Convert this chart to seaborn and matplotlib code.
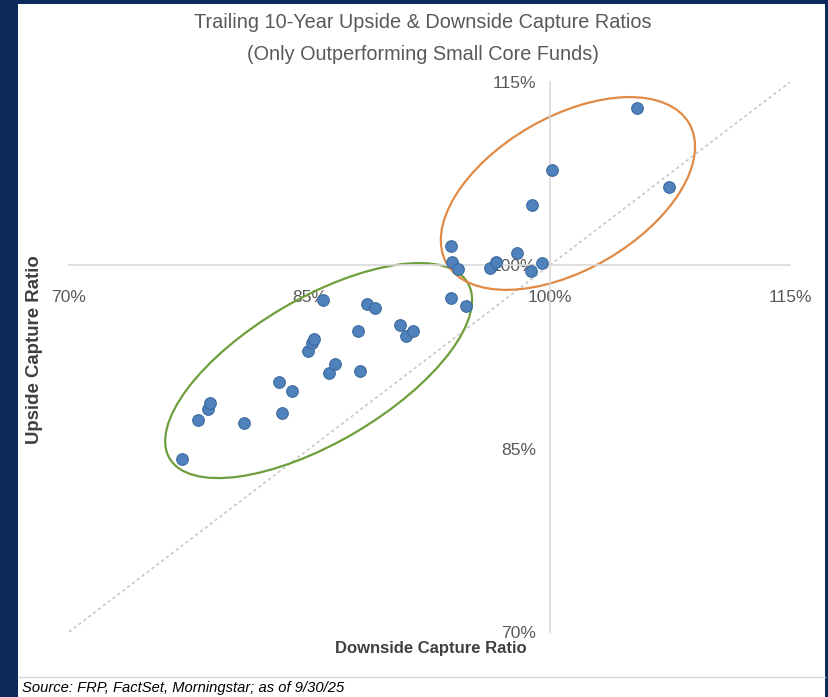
import numpy as np
import pandas as pd
import matplotlib
matplotlib.use('Agg')
import matplotlib.pyplot as plt
import seaborn as sns
from matplotlib.patches import Ellipse, Rectangle
from matplotlib.transforms import ScaledTranslation
from matplotlib import font_manager

# Data (% capture ratios)
green_down = [77.03, 78.07, 78.70, 78.80, 80.92, 83.13, 83.92, 83.31, 84.90, 85.15, 85.29, 85.84,
              86.25, 86.60, 88.16, 88.02, 88.58, 89.10, 90.66, 91.04, 91.45, 93.85, 94.78]
green_up = [84.12, 87.34, 88.22, 88.76, 87.07, 90.47, 89.74, 87.94, 92.96, 93.62, 93.99, 97.16,
            91.16, 91.90, 91.37, 94.65, 96.81, 96.51, 95.11, 94.21, 94.62, 97.35, 96.67]
orange_down = [105.47, 100.15, 107.47, 98.92, 93.85, 93.93, 94.26, 96.28, 96.65, 97.96, 98.86, 99.54]
orange_up = [112.85, 107.82, 106.43, 104.93, 101.58, 100.29, 99.67, 99.80, 100.29, 100.98, 99.56, 100.21]

ticks = [70, 85, 100, 115]
tick_labels = ['70%', '85%', '100%', '115%']

df = pd.DataFrame({
    'Downside': green_down + orange_down,
    'Upside': green_up + orange_up,
})

sns.set_style('white')
names = {f.name for f in font_manager.fontManager.ttflist}
narrow = 'Liberation Sans Narrow' in names
plt.rcParams['font.family'] = ['Liberation Sans Narrow' if narrow else 'Liberation Sans', 'DejaVu Sans']
k = 1.0 if narrow else 0.84

NAVY = '#0b2a5b'
GRAY = '#595959'

fig = plt.figure(figsize=(8.29, 6.97), dpi=100, facecolor=NAVY)
W, H = 829, 697
fig.add_artist(Rectangle((18 / W, 0), (825 - 18) / W, (H - 4) / H, transform=fig.transFigure,
                         facecolor='white', edgecolor='none', zorder=0))
fig.add_artist(plt.Line2D([18 / W, 825 / W], [(H - 677) / H] * 2, transform=fig.transFigure,
                          color='#d9d9d9', lw=1))

ax = fig.add_axes([69 / W, (H - 632) / H, (790 - 69) / W, (632 - 82) / H])
ax.set_facecolor('none')
ax.set_xlim(70, 115)
ax.set_ylim(70, 115)

# 45-degree reference line
ref = np.array([ticks[0], ticks[-1]])
ax.plot(ref, ref, ls=(0, (2, 2)), color='#c4c4c4', lw=1.1, zorder=1)

sns.scatterplot(data=df, x='Downside', y='Upside', ax=ax, color='#4f81bd', edgecolor='#3c6a9e',
                linewidth=0.8, s=70, zorder=3, clip_on=False)

# ellipses around the two groups (size in inches, centre in data)
def group_ellipse(cx, cy, w, h, ang, col):
    tr = fig.dpi_scale_trans + ScaledTranslation(cx, cy, ax.transData)
    ax.add_patch(Ellipse((0, 0), w, h, angle=ang, transform=tr, fill=False,
                         edgecolor=col, lw=1.6, zorder=2, clip_on=False))

group_ellipse(85.58, 91.39, 3.46, 1.44, 30.5, '#6f9e3c')
group_ellipse(101.14, 105.88, 2.80, 1.53, 30.0, '#e08a45')

for s in ['top', 'right']:
    ax.spines[s].set_visible(False)
ax.spines['left'].set_position(('data', 100))
ax.spines['bottom'].set_position(('data', 100))
for s in ['left', 'bottom']:
    ax.spines[s].set_color('#d9d9d9')
    ax.spines[s].set_linewidth(1.2)

ax.set_xticks(ticks)
ax.set_yticks(ticks)
ax.set_xticklabels(tick_labels)
ax.set_yticklabels(tick_labels)
ax.tick_params(axis='both', direction='inout', length=9, width=1, color='#d9d9d9',
               labelcolor=GRAY, labelsize=15 * k)
ax.tick_params(axis='x', pad=13)
ax.tick_params(axis='y', pad=5)
ax.set_xlabel('')
ax.set_ylabel('')

fig.text(431 / W, 1 - 648 / H, 'Downside Capture Ratio', ha='center', va='center',
         fontsize=14.3 * k, color='#404040', fontweight='bold')
fig.text(35 / W, 1 - 350 / H, 'Upside Capture Ratio', ha='center', va='center', rotation=90,
         fontsize=16 * k, color='#404040', fontweight='bold')

fig.text(423 / W, 1 - 22 / H, 'Trailing 10-Year Upside & Downside Capture Ratios', ha='center',
         va='center', fontsize=17 * k, color=GRAY)
fig.text(423 / W, 1 - 55 / H, '(Only Outperforming Small Core Funds)', ha='center',
         va='center', fontsize=17 * k, color=GRAY)

fig.text(22 / W, 1 - 688 / H, 'Source: FRP, FactSet, Morningstar; as of 9/30/25', ha='left',
         va='center', fontsize=12.7 * k, style='italic', color='black')

fig.savefig('out.png', dpi=100, facecolor=NAVY)
